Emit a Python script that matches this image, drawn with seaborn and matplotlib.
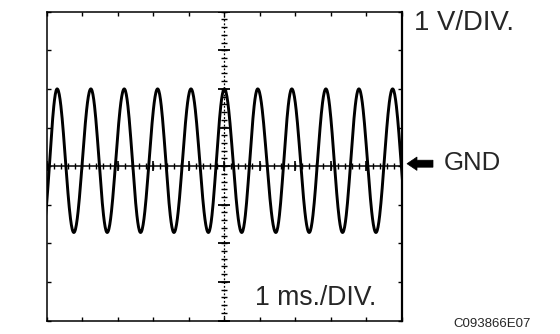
import numpy as np
import pandas as pd
import matplotlib
matplotlib.use("Agg")
import matplotlib.pyplot as plt
from matplotlib.patches import Polygon
import seaborn as sns

# ---- data (time in ms = divisions, voltage in V = divisions)
peak_times = [0.30, 1.25, 2.19, 3.13, 4.07, 5.01, 5.95, 6.91, 7.87, 8.80, 9.75]
trough_times = [-0.12, 0.77, 1.71, 2.65, 3.59, 4.56, 5.50, 6.46, 7.40, 8.34, 9.28, 10.22]
peak_volts = [2.0] * len(peak_times)
trough_volts = [-1.72] * len(trough_times)

x_divs = 10
y_divs = 8

sns.set_style("white")
plt.rcParams["font.family"] = ["Liberation Sans", "DejaVu Sans"]

# extrema merged in time order; a half-cosine shape is drawn between consecutive extrema
ext = sorted(list(zip(peak_times, peak_volts)) + list(zip(trough_times, trough_volts)))
ts, vs = [], []
for (t0, v0), (t1, v1) in zip(ext[:-1], ext[1:]):
    s = np.linspace(0, 1, 40, endpoint=False)
    ts.extend(t0 + (t1 - t0) * s)
    vs.extend(v0 + (v1 - v0) * (1 - np.cos(np.pi * s)) / 2)
ts.append(ext[-1][0]); vs.append(ext[-1][1])
df = pd.DataFrame({"t": ts, "v": vs})

fig = plt.figure(figsize=(5.6, 3.34), dpi=100)
ax = fig.add_axes([46.5 / 560, 1 - 320.5 / 334, 355 / 560, 308.8 / 334])

sns.lineplot(data=df, x="t", y="v", ax=ax, color="black", lw=2.1,
             sort=False, estimator=None, zorder=3)

ax.set_xlim(0, x_divs)
ax.set_ylim(-y_divs / 2, y_divs / 2)
ax.set_xlabel("")
ax.set_ylabel("")
ax.set_xticks(np.arange(0, x_divs + 1))
ax.set_yticks(np.arange(-y_divs / 2, y_divs / 2 + 1))
ax.tick_params(direction="in", length=3, width=1, color="black",
               top=True, right=True, bottom=True, left=True,
               labelbottom=False, labelleft=False)
for side, sp in ax.spines.items():
    sp.set_visible(True)
    sp.set_color("black")
    sp.set_linewidth(1.1)
ax.spines["right"].set_linewidth(1.6)

# centre cross-hair (GND line and centre vertical)
cx = x_divs / 2
ax.axhline(0, color="black", lw=1.1, zorder=2)
ax.axvline(cx, color="black", lw=0.9, ls=(0, (1.5, 1.5)), zorder=2)
minor_x = np.arange(0, x_divs + 0.01, 0.2)
minor_y = np.arange(-y_divs / 2, y_divs / 2 + 0.01, 0.2)
major_x = np.arange(0, x_divs + 1)
major_y = np.arange(-y_divs / 2, y_divs / 2 + 1)
ax.plot(minor_x, np.zeros_like(minor_x), ls="none", marker="|", ms=4, mew=1, color="black", zorder=2)
ax.plot(major_x, np.zeros_like(major_x), ls="none", marker="|", ms=7, mew=1.2, color="black", zorder=2)
ax.plot(np.full_like(minor_y, cx), minor_y, ls="none", marker="_", ms=4.5, mew=1, color="black", zorder=2)
ax.plot(np.full_like(major_y, cx), major_y, ls="none", marker="_", ms=8, mew=1.3, color="black", zorder=2)

# labels
def fx(px): return px / 560
def fy(py): return 1 - py / 334

fig.text(fx(414), fy(30), "1 V/DIV.", fontsize=19.8, ha="left", va="baseline")
fig.text(fx(444), fy(170), "GND", fontsize=18.5, ha="left", va="baseline")
fig.text(fx(255), fy(305), "1 ms./DIV.", fontsize=19.2, ha="left", va="baseline")
fig.text(fx(453), fy(327), "C093866E07", fontsize=9.5, ha="left", va="baseline")

# GND arrow
arrow_px = [(407, 163.7), (417, 157), (417, 160.2), (433, 160.2),
            (433, 167.2), (417, 167.2), (417, 170.4)]
fig.add_artist(Polygon([(fx(x), fy(y)) for x, y in arrow_px], closed=True,
                       facecolor="black", edgecolor="black", lw=0.5,
                       transform=fig.transFigure))

fig.savefig("out.png", dpi=100)
